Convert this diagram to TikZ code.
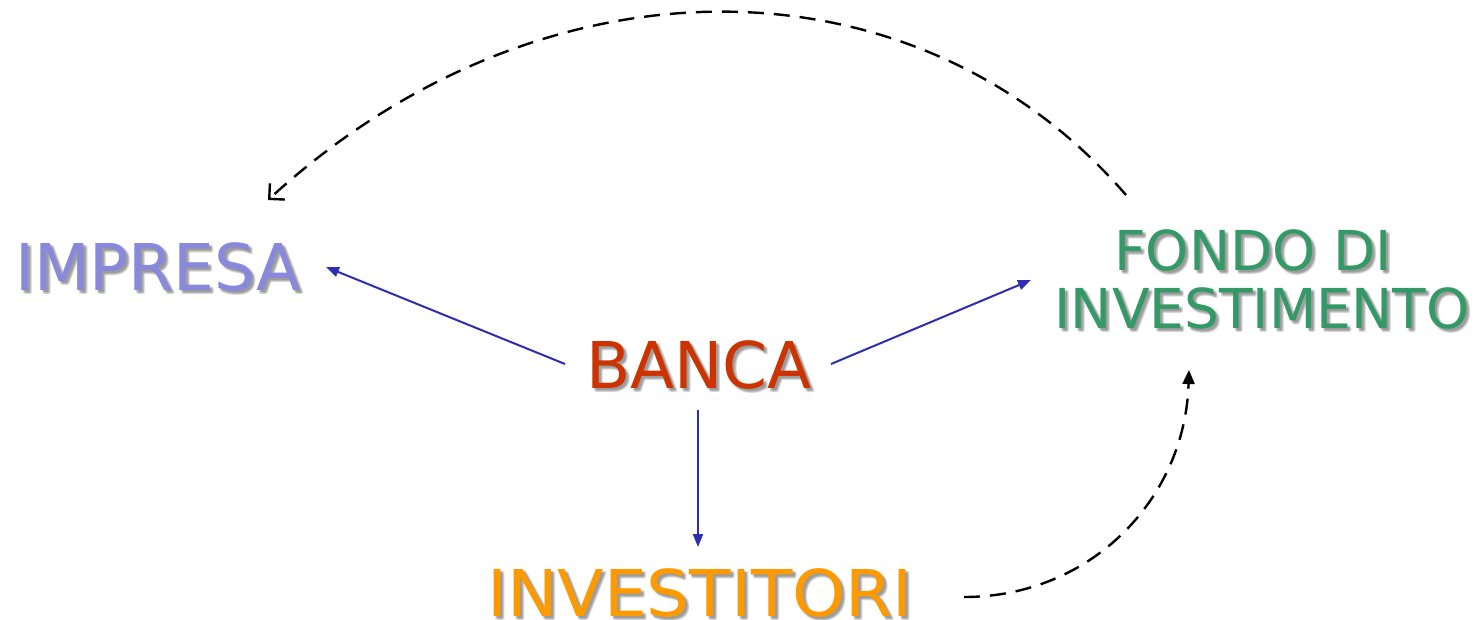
\documentclass[tikz,border=0pt]{standalone}
\usepackage{fontspec}
\setmainfont{DejaVu Sans}
\usetikzlibrary{arrows.meta,calc}

\definecolor{impresacol}{HTML}{8888DD}
\definecolor{bancacol}{HTML}{CC3300}
\definecolor{fondocol}{HTML}{339966}
\definecolor{investcol}{HTML}{FF9900}
\definecolor{flowblue}{HTML}{2E2EB0}
\definecolor{shadowgray}{HTML}{777777}

\tikzset{
  label text/.style={inner sep=0pt, align=center},
  big/.style={font=\fontsize{64.5}{68}\selectfont},
  mid/.style={font=\fontsize{55}{58}\selectfont},
  flow/.style={draw=flowblue, line width=2pt, -{Triangle[length=13pt,width=10pt]}},
  backflow/.style={draw=black, line width=2.4pt, dash pattern=on 16pt off 10pt},
}

% text with a soft gray drop shadow: #1 name, #2 position, #3 colour, #4 size style, #5 text
\newcommand\shadowlabel[5]{%
  \foreach \dx/\dy/\op in {2/2/0.30, 3/3/0.30, 4/4/0.20, 2/4/0.15, 4/2/0.15}{%
    \node[label text,#4,text=shadowgray,opacity=\op] at ([shift={(\dx,\dy)}]#2) {#5};
  }
  \node[label text,#4,text=#3] (#1) at (#2) {#5};
}

\begin{document}
\begin{tikzpicture}[x=1pt,y=-1pt]
  \useasboundingbox[fill=white] (0,0) rectangle (1478,619);

  \shadowlabel{impresa}{158,267}{impresacol}{big}{IMPRESA}
  \shadowlabel{banca}{699,365}{bancacol}{big}{BANCA}
  \shadowlabel{fondo}{1262,279}{fondocol}{mid}{FONDO DI\hspace*{18pt}\\INVESTIMENTO}
  \shadowlabel{investitori}{700,593}{investcol}{big}{\scalebox{1.05}[1]{INVESTITORI}}

  % the bank's three outgoing flows
  \draw[flow] ($(banca.center)+(-134,-1)$) -- ($(impresa.center)+(168,0)$);
  \draw[flow] ($(banca.center)+(132,-1)$) -- ($(fondo.center)+(-231,1)$);
  \draw[flow] ($(banca.center)+(-1,45)$) -- ($(investitori.center)+(-2,-46)$);

  % dashed return flows
  \draw[backflow, -{Straight Barb[length=11pt,width=22pt,line width=2.4pt]}]
    ($(fondo.center)+(-136,-84)$) .. controls (914,-50) and (541,-50) ..
    ($(impresa.center)+(110,-67)$);
  \draw[backflow, -{Triangle[length=14pt,width=12pt]}]
    ($(investitori.center)+(264,4)$) .. controls (1090,597) and (1185,500) ..
    ($(fondo.center)+(-73,91)$);
\end{tikzpicture}
\end{document}
